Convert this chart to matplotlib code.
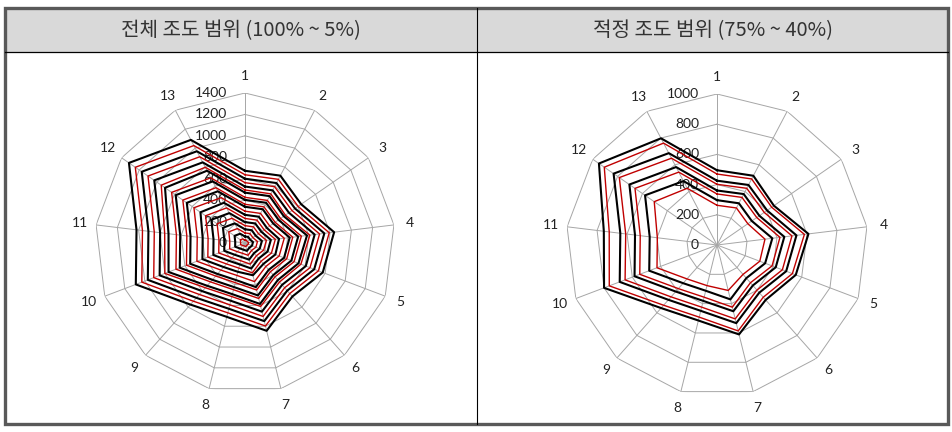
import numpy as np
import matplotlib
matplotlib.use('Agg')
import matplotlib.pyplot as plt
from matplotlib.patches import Rectangle

# ── data: illuminance per luminaire (1..13) at each dimming level ──
spokes = [str(i) for i in range(1, 14)]

lv100 = [674, 710, 637, 838, 776, 667, 844, 710, 768, 1090, 1020, 1316, 1087]
lv95  = [637, 671, 602, 792, 733, 630, 798, 671, 726, 1030, 964, 1244, 1027]
lv90  = [600, 632, 567, 746, 691, 594, 751, 632, 684, 970, 908, 1171, 967]
lv85  = [563, 594, 533, 701, 649, 558, 706, 594, 642, 911, 853, 1100, 909]
lv80  = [527, 555, 498, 655, 607, 522, 660, 555, 601, 852, 798, 1029, 850]
lv75  = [495, 518, 458, 610, 558, 486, 610, 515, 558, 800, 755, 950, 798]
lv70  = [470, 494, 440, 583, 534, 462, 586, 492, 533, 763, 719, 907, 762]
lv65  = [426, 449, 403, 530, 490, 422, 533, 449, 485, 689, 645, 832, 687]
lv60  = [402, 424, 380, 500, 463, 399, 504, 424, 459, 651, 609, 786, 649]
lv55  = [361, 381, 341, 449, 416, 358, 452, 381, 412, 584, 547, 705, 583]
lv50  = [338, 356, 320, 420, 390, 334, 424, 356, 386, 547, 512, 660, 545]
lv45  = [297, 312, 280, 369, 341, 293, 371, 312, 338, 480, 449, 579, 478]
lv40  = [263, 277, 248, 320, 303, 260, 310, 277, 300, 425, 398, 505, 424]
lv35  = [229, 241, 217, 285, 264, 227, 287, 241, 261, 371, 347, 447, 370]
lv30  = [195, 206, 185, 243, 225, 193, 245, 206, 223, 316, 296, 382, 315]
lv25  = [162, 170, 153, 201, 186, 160, 203, 170, 184, 262, 245, 316, 261]
lv20  = [128, 135, 121, 159, 147, 127, 160, 135, 146, 207, 194, 250, 207]
lv15  = [94, 99, 89, 117, 109, 93, 118, 99, 108, 153, 143, 184, 152]
lv10  = [61, 64, 57, 75, 70, 60, 76, 64, 69, 98, 92, 118, 98]
lv5   = [27, 28, 25, 34, 31, 27, 34, 28, 31, 44, 41, 53, 43]

full_range = [lv100, lv95, lv90, lv85, lv80, lv75, lv70, lv65, lv60, lv55,
              lv50, lv45, lv40, lv35, lv30, lv25, lv20, lv15, lv10, lv5]
optimal_range = [lv75, lv70, lv65, lv60, lv55, lv50, lv45, lv40]

left_ticks = [0, 200, 400, 600, 800, 1000, 1200, 1400]
right_ticks = [0, 200, 400, 600, 800, 1000]

left_title = '전체 조도 범위 (100% ~ 5%)'
right_title = '적정 조도 범위 (75% ~ 40%)'

W, H = 953, 432
GRID = '#a6a6a6'
RED = '#c00000'

plt.rcParams['font.family'] = ['Lato', 'DejaVu Sans']

fig = plt.figure(figsize=(W / 100, H / 100), dpi=100)
fig.patch.set_facecolor('white')

# ── table frame drawn in pixel coordinates ──
bg = fig.add_axes([0, 0, 1, 1], zorder=0)
bg.set_xlim(0, W)
bg.set_ylim(H, 0)
bg.axis('off')
bg.add_patch(Rectangle((5, 8), 943, 44, facecolor='#d9d9d9', edgecolor='none'))
bg.plot([5, 948], [52, 52], color='black', lw=0.9)
bg.plot([477, 477], [8, 424], color='black', lw=0.8)
bg.add_patch(Rectangle((5, 8), 943, 416, facecolor='none', edgecolor='#595959', lw=2.4))
bg.text(241, 31, left_title, ha='center', va='center', fontsize=14.5,
        family=['Noto Sans CJK KR', 'DejaVu Sans'], color='#333333')
bg.text(713, 31, right_title, ha='center', va='center', fontsize=14.5,
        family=['Noto Sans CJK KR', 'DejaVu Sans'], color='#333333')


def radar(cx, cy, rad, rows, ticks):
    rect = [(cx - rad) / W, (H - cy - rad) / H, 2 * rad / W, 2 * rad / H]
    ax = fig.add_axes(rect, projection='polar', zorder=1)
    ax.set_theta_offset(np.pi / 2)
    ax.set_theta_direction(-1)
    ax.set_ylim(0, ticks[-1])
    ax.axis('off')
    n = len(spokes)
    ang = [2 * np.pi * k / n for k in range(n)]
    ang_c = ang + [ang[0]]
    # polygon grid
    for t in ticks[1:]:
        ax.plot(ang_c, [t] * (n + 1), color=GRID, lw=0.7, zorder=1)
    for a in ang:
        ax.plot([a, a], [0, ticks[-1]], color=GRID, lw=0.7, zorder=1)
    for t in ticks:
        ax.annotate(str(t), (0, t), xytext=(-18, 0), textcoords='offset pixels',
                    ha='right', va='center', fontsize=10, color='#222222', zorder=1)
    for a, lab in zip(ang, spokes):
        ax.text(a, ticks[-1] * 1.11, lab, ha='center', va='center',
                fontsize=10, color='#222222')
    # series, alternating black / red
    for i, row in enumerate(rows):
        if i % 2 == 0:
            ax.plot(ang_c, row + [row[0]], color='black', lw=1.5, zorder=3)
        else:
            ax.plot(ang_c, row + [row[0]], color=RED, lw=1.0, zorder=3)
    return ax


radar(245, 243, 150, full_range, left_ticks)
radar(717, 245, 151, optimal_range, right_ticks)

plt.savefig('out.png', dpi=100, facecolor='white')
